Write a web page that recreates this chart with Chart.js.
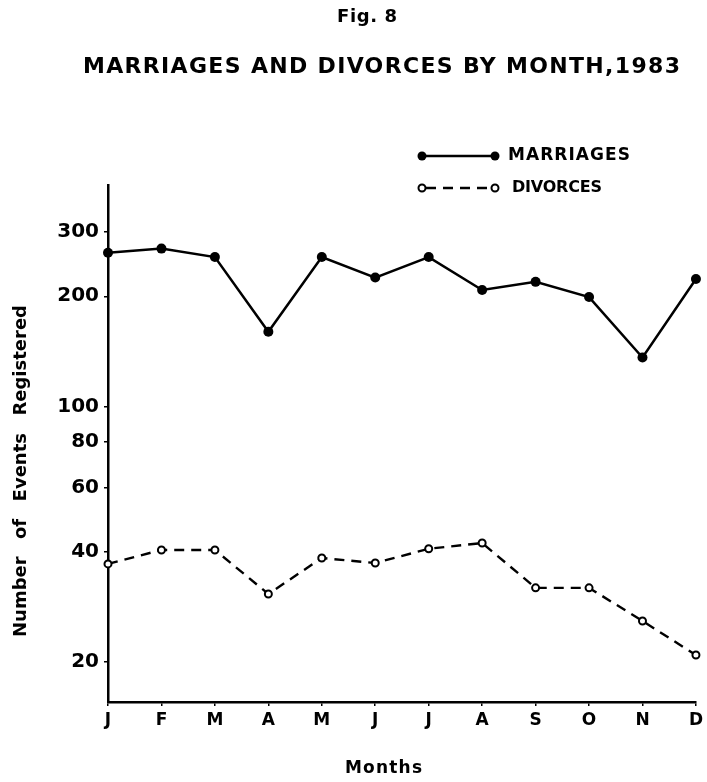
<!DOCTYPE html>
<html>
<head>
<meta charset="utf-8">
<script src="https://cdn.jsdelivr.net/npm/chart.js@4"></script>
<style>
  html, body { margin: 0; padding: 0; background: #fff; }
  #wrap { width: 707px; height: 782px; }
</style>
</head>
<body>
<div id="wrap"><canvas id="chart" width="707" height="782"></canvas></div>
<script>
const months = ['J', 'F', 'M', 'A', 'M', 'J', 'J', 'A', 'S', 'O', 'N', 'D'];
const marriages = [263, 270, 256, 160, 256, 225, 256, 208, 219, 199, 136, 223];
const divorces = [37.1, 40.5, 40.5, 30.7, 38.5, 37.3, 40.8, 42.3, 31.9, 31.9, 25.9, 20.9];
const yTicks = [20, 40, 60, 80, 100, 200, 300];

const FONT = '"DejaVu Sans", Arial, sans-serif';

// draw text stretched to a given width (the original lettering is wide)
function fitText(ctx, text, left, cy, width, font, useWords) {
    ctx.save();
    ctx.font = font;
    ctx.letterSpacing = '0px';
    ctx.wordSpacing = '0px';
    const w = ctx.measureText(text).width;
    if (useWords) {
        const gaps = text.split(' ').length - 1;
        ctx.wordSpacing = ((width - w) / gaps) + 'px';
    } else {
        const ls = text.length > 1 ? (width - w) / (text.length - 1) : 0;
        ctx.letterSpacing = ls + 'px';
    }
    ctx.fillStyle = '#000';
    ctx.textAlign = 'left';
    ctx.textBaseline = 'middle';
    ctx.fillText(text, left, cy);
    ctx.restore();
}

const labels = {
    id: 'labels',
    afterDraw(chart) {
        const ctx = chart.ctx;
        fitText(ctx, 'Fig. 8', 337, 17, 60, 'bold 18px ' + FONT);
        fitText(ctx, 'MARRIAGES AND DIVORCES BY MONTH,1983', 83, 67, 597, 'bold 22px ' + FONT);
        fitText(ctx, 'Months', 345, 769, 77, 'bold 17px ' + FONT);

        // y axis title
        ctx.save();
        ctx.translate(21, 471);
        ctx.rotate(-Math.PI / 2);
        fitText(ctx, 'Number of Events Registered', -166, 0, 332, 'bold 18px ' + FONT, true);
        ctx.restore();

        // legend
        ctx.save();
        ctx.strokeStyle = '#000';
        ctx.lineWidth = 2.5;
        ctx.beginPath();
        ctx.moveTo(422, 156);
        ctx.lineTo(495, 156);
        ctx.stroke();
        ctx.fillStyle = '#000';
        [422, 495].forEach(x => {
            ctx.beginPath();
            ctx.arc(x, 156, 4.5, 0, Math.PI * 2);
            ctx.fill();
        });
        ctx.lineWidth = 2.4;
        ctx.setLineDash([10, 7]);
        ctx.beginPath();
        ctx.moveTo(426, 188);
        ctx.lineTo(491, 188);
        ctx.stroke();
        ctx.setLineDash([]);
        ctx.fillStyle = '#fff';
        ctx.lineWidth = 2;
        [422, 495].forEach(x => {
            ctx.beginPath();
            ctx.arc(x, 188, 3.5, 0, Math.PI * 2);
            ctx.fill();
            ctx.stroke();
        });
        ctx.restore();
        fitText(ctx, 'MARRIAGES', 508, 156, 122, 'bold 17px ' + FONT);
        fitText(ctx, 'DIVORCES', 512, 188, 90, 'bold 16px ' + FONT);
    }
};

new Chart(document.getElementById('chart'), {
    type: 'line',
    data: {
        labels: months,
        datasets: [
            {
                label: 'MARRIAGES',
                data: marriages,
                borderColor: '#000',
                borderWidth: 2.5,
                backgroundColor: '#000',
                pointRadius: 5,
                pointBorderWidth: 0,
                pointBackgroundColor: '#000',
                tension: 0,
                clip: false
            },
            {
                label: 'DIVORCES',
                data: divorces,
                borderColor: '#000',
                borderWidth: 2.4,
                borderDash: [10, 7],
                pointRadius: 3.5,
                pointBorderWidth: 2,
                pointBorderColor: '#000',
                pointBackgroundColor: '#fff',
                tension: 0,
                clip: false
            }
        ]
    },
    options: {
        responsive: false,
        animation: false,
        devicePixelRatio: 1,
        layout: { padding: { top: 185, right: 10, bottom: 0, left: 0 } },
        plugins: {
            legend: { display: false },
            title: { display: false },
            tooltip: { enabled: false }
        },
        scales: {
            x: {
                type: 'category',
                offset: false,
                afterFit: s => { s.height = 80; },
                grid: { drawOnChartArea: false, drawTicks: true, tickLength: 4, color: '#000', lineWidth: 1.5 },
                border: { display: true, color: '#000', width: 2.5 },
                ticks: {
                    color: '#000',
                    font: { family: FONT, size: 17, weight: 'bold' },
                    padding: 4,
                    maxRotation: 0,
                    autoSkip: false
                }
            },
            y: {
                type: 'logarithmic',
                min: 15.55,
                max: 403,
                afterFit: s => { s.width = 108; },
                afterBuildTicks: s => { s.ticks = yTicks.map(v => ({ value: v })); },
                grid: { drawOnChartArea: false, drawTicks: true, tickLength: 4, color: '#000', lineWidth: 1.5 },
                border: { display: true, color: '#000', width: 2.5 },
                ticks: {
                    color: '#000',
                    font: { family: FONT, size: 20, weight: 'bold' },
                    padding: 5,
                    autoSkip: false,
                    callback: v => String(v)
                }
            }
        }
    },
    plugins: [labels]
});
</script>
</body>
</html>
